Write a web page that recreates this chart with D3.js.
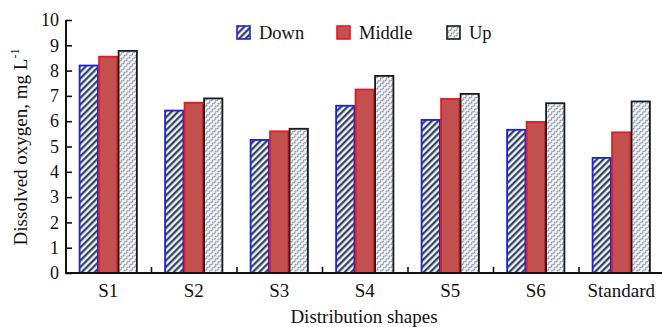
<!DOCTYPE html>
<html>
<head>
<meta charset="utf-8">
<script src="https://cdn.jsdelivr.net/npm/d3@7"></script>
<style>
  body { margin: 0; background: #fff; }
  svg text { font-family: 'Liberation Serif', 'Times New Roman', serif; fill: #111; }
</style>
</head>
<body>
<div id="chart"></div>
<script>
const categories = ["S1", "S2", "S3", "S4", "S5", "S6", "Standard"];
const seriesNames = ["Down", "Middle", "Up"];
const down   = [8.20, 6.42, 5.26, 6.61, 6.05, 5.66, 4.55];
const middle = [8.55, 6.73, 5.60, 7.25, 6.88, 5.97, 5.56];
const up     = [8.78, 6.90, 5.70, 7.79, 7.08, 6.71, 6.78];
const yTicks = [0, 1, 2, 3, 4, 5, 6, 7, 8, 9, 10];

const width = 662, height = 327;
const margin = {top: 20, right: 0, bottom: 54, left: 66};
const serif = "'Liberation Serif', 'Times New Roman', serif";

const svg = d3.select("#chart").append("svg")
    .attr("width", width)
    .attr("height", height)
    .style("font-family", serif);

// patterns for the three series
const defs = svg.append("defs");

const pDown = defs.append("pattern")
    .attr("id", "hatch-down")
    .attr("patternUnits", "userSpaceOnUse")
    .attr("width", 4.6).attr("height", 4.6)
    .attr("patternTransform", "rotate(45)");
pDown.append("rect").attr("width", 4.6).attr("height", 4.6).attr("fill", "#f0f4fb");
pDown.append("line")
    .attr("x1", 1.2).attr("y1", 0).attr("x2", 1.2).attr("y2", 4.6)
    .attr("stroke", "#243657").attr("stroke-width", 2.1);

const pUp = defs.append("pattern")
    .attr("id", "hatch-up")
    .attr("patternUnits", "userSpaceOnUse")
    .attr("width", 8).attr("height", 8)
    .attr("patternTransform", "rotate(-45)");
pUp.append("rect").attr("width", 8).attr("height", 8).attr("fill", "#f3f6fb");
pUp.append("path")
    .attr("d", "M0,2 L2,0.3 L4,2 L6,0.3 L8,2 M0,6 L2,4.3 L4,6 L6,4.3 L8,6")
    .attr("fill", "none")
    .attr("stroke", "#747b86").attr("stroke-width", 1);

const styles = {
  Down:   {fill: "url(#hatch-down)", stroke: "#1d22e0"},
  Middle: {fill: "#c2504e", stroke: "#e8191e"},
  Up:     {fill: "url(#hatch-up)", stroke: "#1a1a1a"}
};

const data = categories.map((c, i) => ({
  cat: c,
  values: [
    {key: "Down", value: down[i]},
    {key: "Middle", value: middle[i]},
    {key: "Up", value: up[i]}
  ]
}));

const x0 = d3.scaleBand()
    .domain(categories)
    .range([margin.left, margin.left + 85.5 * categories.length])
    .padding(0);

const x1 = d3.scaleBand()
    .domain(seriesNames)
    .range([13, 71.5])
    .padding(0);

const y = d3.scaleLinear()
    .domain([0, 10])
    .range([height - margin.bottom, margin.top]);

const g = svg.append("g");

// bars
const groups = g.selectAll(".grp")
  .data(data)
  .enter().append("g")
    .attr("class", "grp")
    .attr("transform", d => `translate(${x0(d.cat)},0)`);

groups.selectAll("rect")
  .data(d => d.values)
  .enter().append("rect")
    .attr("x", d => x1(d.key) + 0.6)
    .attr("width", x1.bandwidth() - 1.2)
    .attr("y", d => y(d.value))
    .attr("height", d => y(0) - y(d.value))
    .attr("fill", d => styles[d.key].fill)
    .attr("stroke", d => styles[d.key].stroke)
    .attr("stroke-width", 1.8);

// y axis
const yAxis = d3.axisLeft(y).tickValues(yTicks).tickSize(-6).tickPadding(7);
const yg = svg.append("g")
    .attr("transform", `translate(${margin.left},0)`)
    .call(yAxis)
    .attr("font-family", serif);
yg.select(".domain").attr("stroke", "#111").attr("stroke-width", 2)
    .attr("d", `M0,${margin.top}V${y(0)}`);
yg.selectAll(".tick line").attr("stroke", "#111").attr("stroke-width", 1.6);
yg.selectAll(".tick text")
    .style("font-family", serif)
    .style("font-size", "18px")
    .attr("fill", "#111");

// x axis: ticks at category boundaries
const xg = svg.append("g")
    .attr("transform", `translate(0,${y(0)})`);
xg.append("line")
    .attr("x1", margin.left - 1).attr("x2", width)
    .attr("stroke", "#111").attr("stroke-width", 2);
xg.selectAll(".bt")
  .data(categories)
  .enter().append("line")
    .attr("x1", d => x0(d) + x0.bandwidth())
    .attr("x2", d => x0(d) + x0.bandwidth())
    .attr("y1", 0).attr("y2", -6)
    .attr("stroke", "#111").attr("stroke-width", 1.6);
xg.selectAll(".cl")
  .data(categories)
  .enter().append("text")
    .attr("x", d => x0(d) + 13 + (71.5 - 13) / 2)
    .attr("y", 24)
    .attr("text-anchor", "middle")
    .style("font-family", serif)
    .style("font-size", "19px")
    .text(d => d);

// axis titles
svg.append("text")
    .attr("x", 364)
    .attr("y", 323)
    .attr("text-anchor", "middle")
    .style("font-family", serif)
    .style("font-size", "19px")
    .text("Distribution shapes");

const yt = svg.append("text")
    .attr("transform", "translate(27,147) rotate(-90)")
    .attr("text-anchor", "middle")
    .style("font-family", serif)
    .style("font-size", "19px");
yt.append("tspan").text("Dissolved oxygen, mg L");
yt.append("tspan").attr("dy", -8).style("font-size", "12px").text("-1");

// legend
const legendX = [237, 337, 447];
const legend = svg.selectAll(".lg")
  .data(seriesNames)
  .enter().append("g")
    .attr("class", "lg")
    .attr("transform", (d, i) => `translate(${legendX[i]},26)`);
legend.append("rect")
    .attr("width", 13).attr("height", 13)
    .attr("fill", d => styles[d].fill)
    .attr("stroke", d => styles[d].stroke)
    .attr("stroke-width", 1.6);
legend.append("text")
    .attr("x", 22)
    .attr("y", 13)
    .style("font-family", serif)
    .style("font-size", "18.5px")
    .text(d => d);
</script>
</body>
</html>
